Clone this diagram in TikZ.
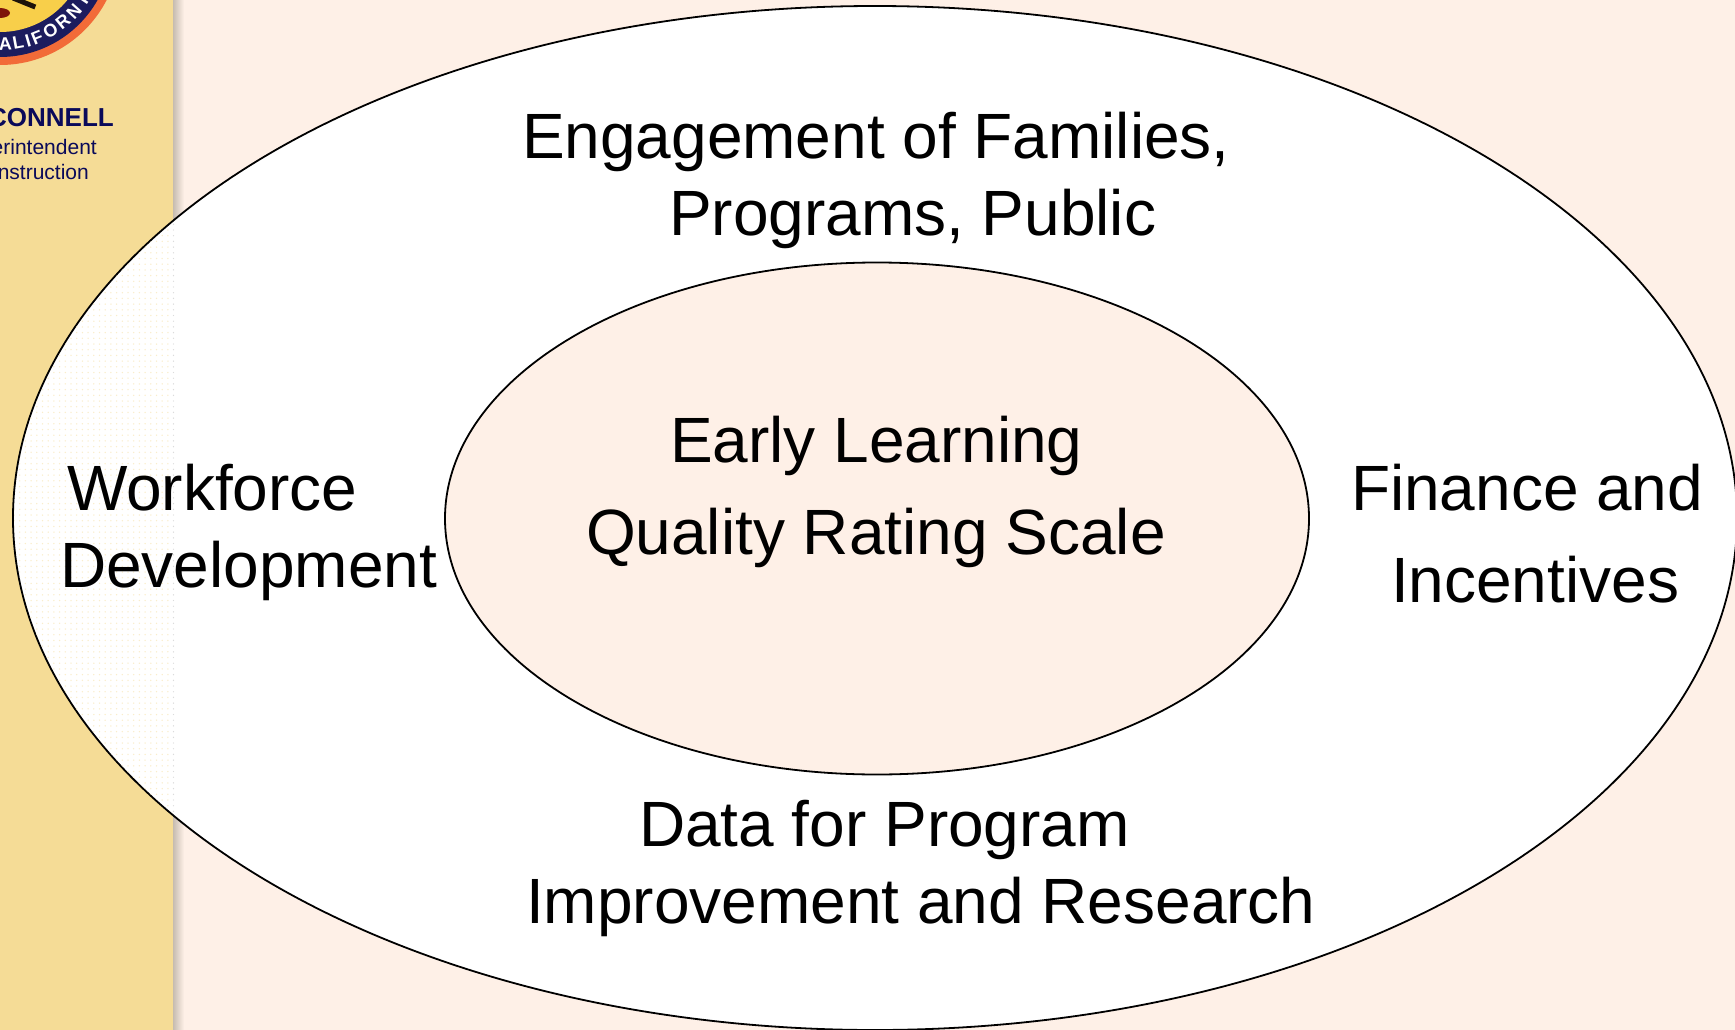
\documentclass[tikz,border=0pt]{standalone}
\usepackage{fontspec}
\setmainfont{Liberation Sans}
\usetikzlibrary{shadings}
\definecolor{pagebg}{HTML}{FEF0E7}
\definecolor{sidebar}{HTML}{F5DC96}
\definecolor{navytext}{HTML}{0A0A5A}
\definecolor{sealnavy}{HTML}{1C1C5E}
\definecolor{sealorange}{HTML}{F26B38}
\definecolor{sealgold}{HTML}{F8CF4A}
\definecolor{shadowgrey}{HTML}{C6BCB0}
\tikzset{
  x=1pt,y=-1pt,
  label/.style={anchor=base west,inner sep=0pt,outer sep=0pt,text=black,font=\fontsize{64}{64}\selectfont},
  ring/.style={draw=black,line width=1.8pt},
  side/.style={anchor=base east,inner sep=0pt,text=navytext,font=\fontsize{21}{21}\selectfont},
  sealletter/.style={inner sep=0pt,text=white,font=\bfseries\fontsize{18}{18}\selectfont},
}
\begin{document}
\begin{tikzpicture}
\useasboundingbox (0,0) rectangle (1735,1030);
\clip (0,0) rectangle (1735,1030);
% page and sidebar
\fill[pagebg] (0,0) rectangle (1735,1030);
\shade[left color=shadowgrey,right color=pagebg] (173,0) rectangle (184,1030);
\fill[sidebar] (0,0) rectangle (173,1030);
% seal
\fill[sealorange] (0,-55) circle[radius=120];
\fill[sealnavy] (0,-55) circle[radius=112];
\fill[sealgold] (0,-55) circle[radius=87];
\fill[black!85!brown,rotate around={-22:(24,3)}] (12,0) rectangle (36,5);
\fill[red!45!black!85!brown] (0,13) ellipse[x radius=10,y radius=5];
\foreach \ch/\ang in {A/87,L/79.5,I/73.7,F/68,O/59.5,R/50.7,N/41.8,I/33.8}{
  \pgfmathsetmacro{\rot}{90-\ang}
  \node[sealletter,rotate=\rot] at ({99.5*cos(\ang)},{-55+99.5*sin(\ang)}) {\ch};
}
% sidebar text
\node[side,font=\bfseries\fontsize{26}{26}\selectfont] (name) at (114,127) {CONNELL};
\node[side] (title) at (97,154.5) {erintendent};
\node[side] (office) at (89,179) {nstruction};
% ellipses
\draw[ring,fill=white] (875,518) ellipse[x radius=862,y radius=512];
\begin{scope}
\clip (875,518) ellipse[x radius=861,y radius=511];
\clip (13,0) rectangle (176,1030);
\foreach \i in {0,...,27}{\foreach \j in {0,...,180}{
  \fill[sidebar!50!white] ({14+5.7*\i},{2+5.7*\j}) circle[radius=0.75];}}
\foreach \j in {0,...,180}{
  \fill[black!14] (173.5,{2+5.7*\j}) circle[radius=0.7];}
\end{scope}
\draw[ring,fill=pagebg] (877,518.5) ellipse[x radius=432,y radius=256];
% labels
\node[label] (eng1) at (522,159) {Engagement of Families,};
\node[label] (eng2) at (669,235) {Programs, Public};
\node[label] (core1) at (670,462) {Early Learning};
\node[label] (core2) at (586,554) {Quality Rating Scale};
\node[label] (wf1) at (67,510.5) {Workforce};
\node[label] (wf2) at (60,587) {Development};
\node[label] (fin1) at (1351,510.5) {Finance and};
\node[label] (fin2) at (1391,602.5) {Incentives};
\node[label] (data1) at (639,846) {Data for Program};
\node[label] (data2) at (526,923) {Improvement and Research};
\end{tikzpicture}
\end{document}
